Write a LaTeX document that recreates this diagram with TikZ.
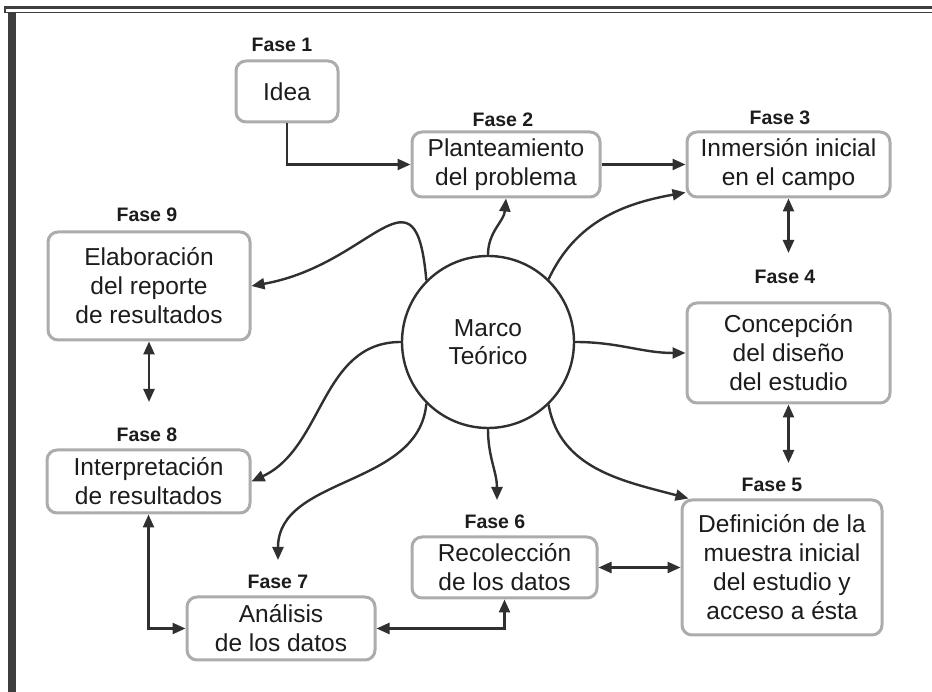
\documentclass[tikz,border=0pt]{standalone}
\usepackage{fontspec}
\setmainfont{Liberation Sans}
\usetikzlibrary{arrows.meta}
\definecolor{framecolor}{RGB}{62,62,62}
\definecolor{boxcolor}{RGB}{172,172,172}
\definecolor{linecolor}{RGB}{48,48,48}
\definecolor{textcolor}{RGB}{28,28,28}
\tikzset{
  fasebox/.style={draw=boxcolor,line width=3pt,rounded corners=10pt,fill=white,
    align=center,text=textcolor,inner sep=2pt,font=\fontsize{24.5}{29}\selectfont},
  faselabel/.style={text=textcolor,inner sep=0pt,font=\bfseries\fontsize{19.5}{21}\selectfont},
  link/.style={draw=linecolor,line width=2.4pt,-{Triangle[length=13pt,width=11pt]}},
  dlink/.style={draw=linecolor,line width=2.4pt,{Triangle[length=13pt,width=11pt]}-{Triangle[length=13pt,width=11pt]}},
}
\begin{document}
\begin{tikzpicture}[x=1pt,y=1pt]
  \useasboundingbox (0,0) rectangle (932,692);
  % frame
  \draw[framecolor,line width=3pt] (4,684) -- (932,684);
  \draw[framecolor,line width=1.5pt] (6,679.5) -- (932,679.5);
  \draw[framecolor,line width=1.2pt] (5,684) -- (5,679);
  \fill[framecolor] (8,0) rectangle (16,679);

  % centre
  \node[circle,draw=linecolor,line width=2.4pt,minimum size=172pt,align=center,text=textcolor,
        font=\fontsize{24.5}{28}\selectfont] (mt) at (488,350) {Marco\\Teórico};

  % phases
  \node[fasebox,minimum width=102pt,minimum height=61pt] (idea) at (287,600.5) {Idea};
  \node[fasebox,minimum width=188pt,minimum height=65pt] (plant) at (506,527.5) {Planteamiento\\del problema};
  \node[fasebox,minimum width=203pt,minimum height=65pt] (inmer) at (788.5,527.5) {Inmersión inicial\\en el campo};
  \node[fasebox,minimum width=203pt,minimum height=100pt] (conc) at (788.5,339) {Concepción\\del diseño\\del estudio};
  \node[fasebox,minimum width=200pt,minimum height=135pt] (defi) at (782,124.5) {Definición de la\\muestra inicial\\del estudio y\\acceso a ésta};
  \node[fasebox,minimum width=185pt,minimum height=61pt] (recol) at (504.5,124.5) {Recolección\\de los datos};
  \node[fasebox,minimum width=188pt,minimum height=63pt] (anal) at (281,63.5) {Análisis\\de los datos};
  \node[fasebox,minimum width=203pt,minimum height=63pt] (interp) at (148.5,210.5) {Interpretación\\de resultados};
  \node[fasebox,minimum width=202pt,minimum height=108pt] (elab) at (149,406) {Elaboración\\del reporte\\de resultados};

  \node[faselabel] (f1) at (282,647) {Fase 1};
  \node[faselabel] (f2) at (503,572) {Fase 2};
  \node[faselabel] (f3) at (780,574) {Fase 3};
  \node[faselabel] (f4) at (785,415) {Fase 4};
  \node[faselabel] (f5) at (772,207) {Fase 5};
  \node[faselabel] (f6) at (495,170) {Fase 6};
  \node[faselabel] (f7) at (278,110) {Fase 7};
  \node[faselabel] (f8) at (147,257) {Fase 8};
  \node[faselabel] (f9) at (147,477) {Fase 9};

  \coordinate (t4) at (788.5,439);
  \coordinate (t5) at (788.5,229);
  \coordinate (t6) at (497,192);
  \coordinate (t7) at (278,132);
  \coordinate (t8) at (149,290);

  % sequence
  \draw[link] (idea.south) |- (plant.west);
  \draw[link] (plant.east) -- (inmer.west);
  \draw[dlink] (inmer.south) -- (t4);
  \draw[dlink] (conc.south) -- (t5);
  \draw[dlink] (recol.east) -- (defi.west);
  \draw[dlink] (anal.east) -| (recol.south);
  \draw[dlink] (interp.south) |- (anal.west);
  \draw[dlink] (elab.south) -- (t8);

  % from the centre
  \draw[link] (mt.north) to[out=90,in=-95] (plant.south);
  \draw[link] (mt.46) to[out=65,in=190] ([yshift=6pt]inmer.south west);
  \draw[link] (mt.east) to[out=0,in=180] (conc.west);
  \draw[link] (mt.-46) to[out=-80,in=165] ([xshift=8pt]defi.north west);
  \draw[link] (mt.south) to[out=-90,in=90] (t6);
  \draw[link] (mt.-135) to[out=-95,in=90] (t7);
  \draw[link] (mt.west) to[out=180,in=25] (interp.east);
  \draw[link] (mt.135) to[out=95,in=10,looseness=1.8] (elab.east);
\end{tikzpicture}
\end{document}
